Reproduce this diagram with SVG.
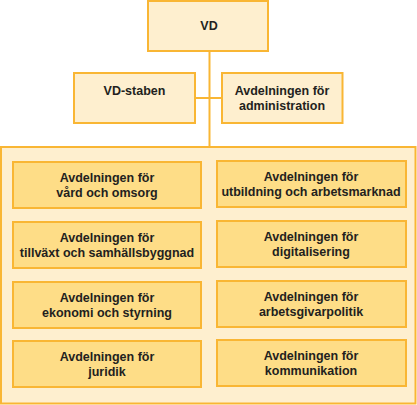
<svg xmlns="http://www.w3.org/2000/svg" width="417" height="405" viewBox="0 0 417 405">
<style>
.box{fill:#FEEFCF;stroke:#F9B634;stroke-width:2}
.inner{fill:#FEDD87;stroke:#F9B634;stroke-width:2}
.con{stroke:#F9B634;stroke-width:2;fill:none}
text{font-family:"Liberation Sans",Arial,sans-serif;font-weight:bold;font-size:12.5px;fill:#231F20;text-anchor:middle}
</style>
<rect width="417" height="405" fill="#FFFFFF"/>
<g id="container"><rect class="box" x="1" y="147" width="414.5" height="256.5"/></g>
<g id="connectors">
<line class="con" x1="209.5" y1="51" x2="209.5" y2="147"/>
<line class="con" x1="195" y1="98" x2="222" y2="98"/>
</g>
<g id="vd"><rect class="box" x="148" y="1" width="120" height="50"/><text x="209" y="30">VD</text></g>
<g id="vdstaben"><rect class="box" x="74" y="73" width="121" height="50"/><text x="134.5" y="94.5">VD-staben</text></g>
<g id="admin"><rect class="box" x="222" y="73" width="120.5" height="50"/><text x="282" y="94.5">Avdelningen för</text><text x="282" y="110">administration</text></g>
<g id="vard"><rect class="inner" x="13" y="162" width="188" height="46"/><text x="107" y="181.5">Avdelningen för</text><text x="107" y="197">vård och omsorg</text></g>
<g id="tillvaxt"><rect class="inner" x="13" y="222" width="188" height="46"/><text x="107" y="241.5">Avdelningen för</text><text x="107" y="257">tillväxt och samhällsbyggnad</text></g>
<g id="ekonomi"><rect class="inner" x="13" y="282" width="188" height="46"/><text x="107" y="301.5">Avdelningen för</text><text x="107" y="317">ekonomi och styrning</text></g>
<g id="juridik"><rect class="inner" x="13" y="341" width="188" height="46"/><text x="107" y="360.5">Avdelningen för</text><text x="107" y="376">juridik</text></g>
<g id="utbildning"><rect class="inner" x="217" y="161" width="189" height="46"/><text x="311" y="180.5">Avdelningen för</text><text x="311" y="196">utbildning och arbetsmarknad</text></g>
<g id="digitalisering"><rect class="inner" x="217" y="221" width="189" height="46"/><text x="311" y="240.5">Avdelningen för</text><text x="311" y="256">digitalisering</text></g>
<g id="arbetsgivar"><rect class="inner" x="217" y="281" width="189" height="46"/><text x="311" y="300.5">Avdelningen för</text><text x="311" y="316">arbetsgivarpolitik</text></g>
<g id="kommunikation"><rect class="inner" x="217" y="340" width="189" height="46"/><text x="311" y="359.5">Avdelningen för</text><text x="311" y="375">kommunikation</text></g>
</svg>
